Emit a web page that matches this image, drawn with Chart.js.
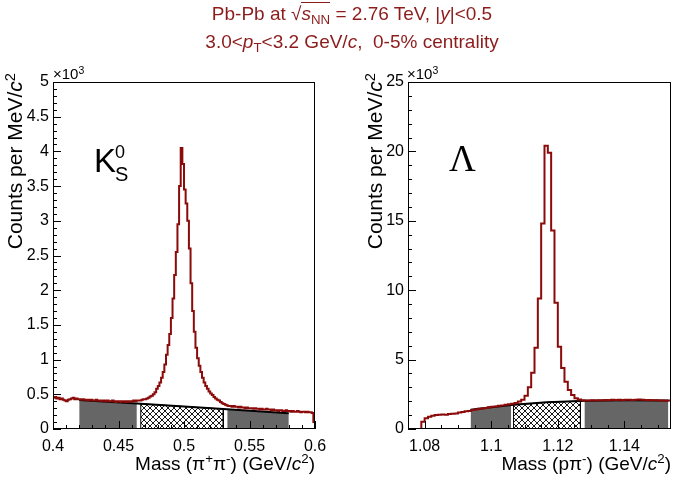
<!DOCTYPE html>
<html><head><meta charset="utf-8">
<script src="https://cdn.jsdelivr.net/npm/chart.js@4.4.1/dist/chart.umd.min.js"></script>
<style>
body{margin:0;background:#fff;}
#wrap{position:relative;width:673px;height:486px;overflow:hidden;font-family:"Liberation Sans",Arial,sans-serif;background:#fff;}
canvas{position:absolute;top:0;}
.t{position:absolute;white-space:nowrap;color:#000;line-height:1;}
sup,sub{font-size:70%;vertical-align:baseline;position:relative;line-height:0;}
sup{top:-0.5em;} sub{top:0.3em;}
.hdr{position:absolute;left:0;width:704px;text-align:center;color:#8c1c1c;font-size:19px;line-height:20px;white-space:nowrap;}
.ol{border-top:1px solid #8c1c1c;padding-top:0px;}
.ytitle{position:absolute;width:200px;text-align:right;font-size:21px;line-height:22px;transform-origin:0 0;transform:rotate(-90deg);white-space:nowrap;}
.xtitle{position:absolute;font-size:19px;line-height:22px;white-space:nowrap;}
</style></head><body><div id="wrap">
<canvas id="cK" width="336" height="486" style="left:0px"></canvas>
<canvas id="cL" width="337" height="486" style="left:336px"></canvas>
<div class="hdr" style="top:4px">Pb-Pb at &radic;<span class="ol"><i>s</i><sub>NN</sub></span> = 2.76 TeV, |<i>y</i>|&lt;0.5</div>
<div class="hdr" style="top:32px">3.0&lt;<i>p</i><sub>T</sub>&lt;3.2 GeV/<i>c</i>,&nbsp; 0-5% centrality</div>
<div class="ytitle" style="left:4px;top:273px">Counts per MeV/<i>c</i><sup>2</sup></div>
<div class="ytitle" style="left:364px;top:273px">Counts per MeV/<i>c</i><sup>2</sup></div>
<div class="xtitle" style="right:358px;top:453px">Mass (&pi;<sup>+</sup>&pi;<sup>-</sup>) (GeV/<i>c</i><sup>2</sup>)</div>
<div class="xtitle" style="right:2px;top:453px">Mass (p&pi;<sup>-</sup>) (GeV/<i>c</i><sup>2</sup>)</div>
<div class="t" style="left:53px;top:66px;font-size:15px">&times;10<sup>3</sup></div>
<div class="t" style="left:407px;top:66px;font-size:15px">&times;10<sup>3</sup></div>
<div class="t" style="left:94px;top:144px;font-size:33px">K</div>
<div class="t" style="left:115px;top:143px;font-size:18px">0</div>
<div class="t" style="left:115px;top:164px;font-size:20px">S</div>
<div class="t" style="left:449px;top:140px;font-size:37px;font-family:'Liberation Serif',serif">&Lambda;</div>
</div>
<script>
// ---------- K0S panel data (counts per MeV/c^2, x10^3) ----------
const k0Lo = 0.4;
const k0BinW = 0.00125;
const k0Counts = [
 0.45,0.46,0.44,0.45,0.43,0.44,0.42,0.41,0.40,0.42,0.43,0.44,0.45,0.43,0.44,0.43,
 0.43,0.42,0.43,0.42,0.42,0.41,0.42,0.42,0.41,0.41,0.42,0.41,
 0.41,0.40,0.41,0.41,0.40,0.41,0.40,0.40,0.41,0.40,0.39,0.40,
 0.40,0.39,0.40,0.40,0.39,0.40,0.39,0.40,0.40,0.41,0.40,0.41,
 0.41,0.41,0.42,0.43,0.43,0.44,0.45,0.47,0.48,0.50,
 0.53,0.58,0.62,0.67,0.74,0.82,0.93,1.07,1.21,1.37,
 1.60,1.88,2.22,2.55,2.95,3.50,4.05,3.82,3.45,3.25,
 3.00,2.60,2.10,1.70,1.40,1.17,1.02,0.91,0.82,0.74,
 0.67,0.62,0.58,0.54,0.51,0.49,0.46,0.44,0.42,0.41,
 0.39,0.37,0.36,0.35,0.34,0.33,
 0.33,0.32,0.33,0.32,0.32,0.31,0.32,0.31,0.31,0.30,0.31,0.30,
 0.30,0.30,0.29,0.30,0.29,0.29,0.28,0.29,0.28,0.28,0.29,0.28,
 0.28,0.27,0.28,0.27,0.27,0.26,0.27,0.27,0.26,0.26,0.27,0.26,
 0.26,0.25,0.26,0.25,0.25,0.26,0.25,0.24,0.25,0.25,0.24,0.25,0.24,0.24,0.23,0.10
];
const k0BkgX = [0.42, 0.464, 0.467, 0.53, 0.533, 0.58];
const k0BkgY = [0.418, 0.366, 0.363, 0.288, 0.284, 0.226];
const k0XTicks = [0.4, 0.45, 0.5, 0.55, 0.6];
const k0YTicks = [0, 0.5, 1, 1.5, 2, 2.5, 3, 3.5, 4, 4.5, 5];

// ---------- Lambda panel data ----------
const lamLo = 1.075;
const lamBinW = 0.001;
const lamCounts = [
 0,0,0,0,0.53,0.77,0.89,0.95,1.00,1.02,
 1.05,1.03,1.08,1.10,1.12,1.18,1.22,1.27,1.30,1.36,
 1.40,1.45,1.48,1.52,1.56,1.60,1.63,1.67,1.70,1.74,
 1.78,1.82,1.88,1.98,2.10,2.40,3.00,4.06,5.86,9.40,
 14.8,20.4,19.9,14.3,9.10,5.93,4.40,3.41,2.81,2.45,
 2.21,2.12,2.08,
 2.06,2.05,2.07,2.06,2.08,2.07,2.09,2.08,2.10,2.09,2.10,2.08,2.10,
 2.11,2.09,2.10,2.12,2.10,2.08,2.09,2.07,2.08,2.06,2.05,2.04,2.06
];
const lamBkgX = [1.0938, 1.1, 1.106, 1.1067, 1.1167, 1.1268, 1.128, 1.14, 1.1532];
const lamBkgY = [1.38, 1.57, 1.72, 1.74, 1.92, 2.02, 2.03, 2.07, 2.05];
const lamXTicks = [1.08, 1.1, 1.12, 1.14];
const lamYTicks = [0, 5, 10, 15, 20, 25];

const HIST_COLOR = '#8b0a0a';
const BAND_GRAY = '#666666';

function makeHatch() {
  const s = 6;
  const c = document.createElement('canvas');
  c.width = s; c.height = s;
  const g = c.getContext('2d');
  g.fillStyle = '#fff'; g.fillRect(0, 0, s, s);
  g.strokeStyle = '#000'; g.lineWidth = 0.9;
  g.beginPath();
  g.moveTo(-1, -1); g.lineTo(s + 1, s + 1);
  g.moveTo(s + 1, -1); g.lineTo(-1, s + 1);
  g.stroke();
  return g.createPattern(c, 'repeat');
}

function histPoints(lo, w, counts) {
  const pts = counts.map((c, i) => ({x: lo + i * w, y: c}));
  pts.push({x: lo + counts.length * w, y: counts[counts.length - 1]});
  return pts;
}
function pts(xs, ys, a, b) {
  const out = [];
  for (let i = a; i <= b; i++) out.push({x: xs[i], y: ys[i]});
  return out;
}
function outline(xs, ys, a, b) {
  const p = pts(xs, ys, a, b);
  return [{x: xs[a], y: 0}, ...p, {x: xs[b], y: 0}, {x: xs[a], y: 0}];
}

const axisDeco = {
  id: 'axisDeco',
  afterDatasetsDraw(chart, args, o) {
    const {ctx, chartArea: a} = chart;
    const xs = chart.scales.x, ys = chart.scales.y;
    ctx.save();
    ctx.strokeStyle = '#000'; ctx.lineWidth = 1;
    ctx.beginPath();
    const yTick = (v, len) => { const p = Math.round(ys.getPixelForValue(v)) + 0.5; ctx.moveTo(a.left, p); ctx.lineTo(a.left + len, p); };
    const xTick = (v, len) => { const p = Math.round(xs.getPixelForValue(v)) + 0.5; ctx.moveTo(p, a.bottom); ctx.lineTo(p, a.bottom - len); };
    const loop = (min, max, step, fn) => {
      const n0 = Math.ceil(min / step - 1e-6), n1 = Math.floor(max / step + 1e-6);
      for (let n = n0; n <= n1; n++) fn(n * step);
    };
    loop(ys.min, ys.max, o.yMinor, v => yTick(v, 4));
    loop(xs.min, xs.max, o.xMinor, v => xTick(v, 4));
    ys.ticks.forEach(t => yTick(t.value, 8));
    xs.ticks.forEach(t => xTick(t.value, 8));
    ctx.stroke();
    ctx.strokeRect(a.left + 0.5, a.top + 0.5, a.right - a.left - 1, a.bottom - a.top - 1);
    ctx.restore();
  }
};

const fmt = v => String(+(+v).toFixed(4));
const tickFont = {family: 'Liberation Sans', size: 16};

function makeChart(id, o) {
  const hatch = makeHatch();
  const ds = [
    {data: histPoints(o.lo, o.w, o.counts), stepped: true, borderColor: HIST_COLOR, borderWidth: 2, pointRadius: 0, fill: false, order: 0},
    {data: pts(o.bx, o.by, 0, o.bx.length - 1), borderColor: '#000', borderWidth: 2, pointRadius: 0, fill: false, order: 1},
    {data: outline(o.bx, o.by, o.sig[0], o.sig[1]), borderColor: '#000', borderWidth: 1, pointRadius: 0, fill: false, order: 2},
    {data: pts(o.bx, o.by, o.sig[0], o.sig[1]), borderWidth: 0, pointRadius: 0, fill: 'origin', backgroundColor: hatch, order: 3},
    {data: pts(o.bx, o.by, o.sb1[0], o.sb1[1]), borderWidth: 0, pointRadius: 0, fill: 'origin', backgroundColor: BAND_GRAY, order: 3},
    {data: pts(o.bx, o.by, o.sb2[0], o.sb2[1]), borderWidth: 0, pointRadius: 0, fill: 'origin', backgroundColor: BAND_GRAY, order: 3}
  ];
  return new Chart(document.getElementById(id), {
    type: 'line',
    data: {datasets: ds},
    plugins: [axisDeco],
    options: {
      responsive: false, animation: false, devicePixelRatio: 1,
      layout: {padding: {top: 82, right: o.padR, left: 0, bottom: 0}},
      plugins: {legend: {display: false}, tooltip: {enabled: false}, title: {display: false},
        axisDeco: {xMinor: o.xMinor, yMinor: o.yMinor}},
      elements: {line: {tension: 0}},
      scales: {
        x: {type: 'linear', min: o.xmin, max: o.xmax,
          grid: {display: false, drawTicks: false}, border: {display: false},
          afterBuildTicks: s => { s.ticks = o.xt.map(v => ({value: v})); },
          afterFit: s => { s.height = 57; },
          ticks: {autoSkip: false, maxRotation: 0, padding: 8, color: '#000', font: tickFont, callback: fmt}},
        y: {type: 'linear', min: o.ymin, max: o.ymax,
          grid: {display: false, drawTicks: false}, border: {display: false},
          afterBuildTicks: s => { s.ticks = o.yt.map(v => ({value: v})); },
          afterFit: s => { s.width = o.yw; },
          ticks: {autoSkip: false, padding: 4, color: '#000', font: tickFont, callback: fmt}}
      }
    }
  });
}

makeChart('cK', {lo: k0Lo, w: k0BinW, counts: k0Counts, bx: k0BkgX, by: k0BkgY,
  sb1: [0, 1], sig: [2, 3], sb2: [4, 5], xt: k0XTicks, yt: k0YTicks,
  xmin: 0.4, xmax: 0.6, ymin: 0, ymax: 5, xMinor: 0.01, yMinor: 0.1, yw: 53, padR: 21});
makeChart('cL', {lo: lamLo, w: lamBinW, counts: lamCounts, bx: lamBkgX, by: lamBkgY,
  sb1: [0, 2], sig: [3, 5], sb2: [6, 8], xt: lamXTicks, yt: lamYTicks,
  xmin: 1.075, xmax: 1.154, ymin: 0, ymax: 25, xMinor: 0.005, yMinor: 1, yw: 72, padR: 2});
</script>
</body></html>
